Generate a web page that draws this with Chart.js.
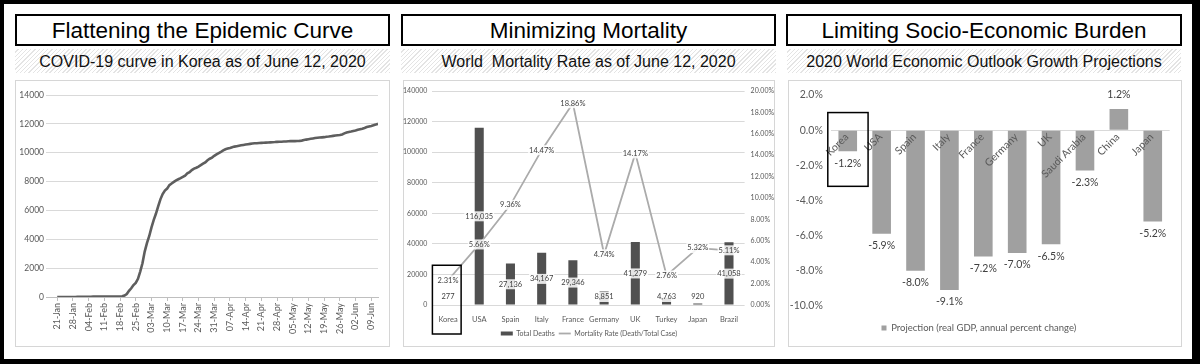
<!DOCTYPE html>
<html>
<head>
<meta charset="utf-8">
<script src="https://cdn.jsdelivr.net/npm/chart.js@4.4.1/dist/chart.umd.min.js"></script>
<style>
  html, body { margin: 0; padding: 0; background: #fff; }
  body { width: 1200px; height: 364px; position: relative; overflow: hidden; font-family: "Liberation Sans", Arial, sans-serif; }
  #frame { position: absolute; left: 0; top: 0; width: 1200px; height: 364px; box-sizing: border-box; border-style: solid; border-color: #000; border-width: 4px 8px 5px 4px; }
  .title { position: absolute; top: 14px; height: 32px; box-sizing: border-box; border: 2px solid #000; background: #fff; text-align: center; font-size: 22.5px; line-height: 29px; color: #000; white-space: nowrap; }
  .sub { position: absolute; top: 49px; height: 24px; text-align: center; font-size: 16px; line-height: 26px; color: #111; white-space: pre;
         background: repeating-linear-gradient(135deg, #ffffff 0px, #ffffff 2px, #e4e4e4 2px, #e4e4e4 3px); }
  .box { position: absolute; top: 80px; height: 267px; box-sizing: border-box; border: 1px solid #d6d6d6; background: #fff; }
  canvas { position: absolute; top: 80px; }
</style>
</head>
<body>
<div id="frame"></div>

<div class="title" style="left:15px;width:375px;">Flattening the Epidemic Curve</div>
<div class="sub" style="left:15px;width:375px;">COVID-19 curve in Korea as of June 12, 2020</div>
<div class="box" style="left:15px;width:375px;"></div>
<canvas id="c1" width="375" height="267" style="left:15px;"></canvas>

<div class="title" style="left:401px;width:375px;">Minimizing Mortality</div>
<div class="sub" style="left:401px;width:375px;">World  Mortality Rate as of June 12, 2020</div>
<div class="box" style="left:403px;width:372px;"></div>
<canvas id="c2" width="372" height="267" style="left:403px;"></canvas>

<div class="title" style="left:786px;width:396px;">Limiting Socio-Economic Burden</div>
<div class="sub" style="left:787px;width:394px;">2020 World Economic Outlook Growth Projections</div>
<div class="box" style="left:788px;width:394px;"></div>
<canvas id="c3" width="394" height="267" style="left:788px;"></canvas>

<script>
// ---------- Panel 1: Korea cumulative confirmed cases (daily, 21-Jan to 12-Jun 2020) ----------
const caseTickLabels = ['21-Jan','28-Jan','04-Feb','11-Feb','18-Feb','25-Feb','03-Mar','10-Mar','17-Mar','24-Mar','31-Mar',
  '07-Apr','14-Apr','21-Apr','28-Apr','05-May','12-May','19-May','26-May','02-Jun','09-Jun'];
const koreaCases = [
  1,1,1,2,2,3,4,4,4,6,11,
  12,15,15,16,19,23,24,24,27,27,28,28,28,28,28,29,30,31,51,104,204,433,602,833,977,1261,1766,2337,3150,
  3736,4212,4812,5328,5766,6284,6767,7134,7382,7513,7755,7869,7979,8086,8162,8236,8320,8413,8565,8652,8799,8897,8961,9037,9137,9241,9332,9478,9583,9661,9786,
  9887,9976,10062,10156,10237,10284,10331,10384,10423,10450,10480,10512,10537,10564,10591,10613,10635,10653,10661,10674,10683,10694,10702,10708,10718,10728,10738,10752,10761,10765,
  10774,10780,10793,10801,10804,10806,10810,10822,10840,10874,10909,10936,10962,10991,11018,11037,11050,11065,11078,11110,11122,11142,11165,11190,11206,11225,11265,11344,11402,11441,11468,
  11503,11541,11590,11629,11668,11719,11776,11814,11852,11902,11947,12003
];

// ---------- Panel 2: world mortality ----------
const mortCountries = ['Korea','USA','Spain','Italy','France','Germany','UK','Turkey','Japan','Brazil'];
const totalDeaths   = [277, 116035, 27136, 34167, 29346, 8851, 41279, 4763, 920, 41058];
const mortalityRate = [2.31, 5.66, 9.36, 14.47, 18.86, 4.74, 14.17, 2.76, 5.32, 5.11];

// ---------- Panel 3: 2020 WEO growth projections ----------
const gdpCountries  = ['Korea','USA','Spain','Italy','France','Germany','UK','Saudi Arabia','China','Japan'];
const gdpProjection = [-1.2, -5.9, -8.0, -9.1, -7.2, -7.0, -6.5, -2.3, 1.2, -5.2];

const FAM = 'Lato, "Open Sans", sans-serif';
Chart.defaults.font.family = FAM;
Chart.defaults.color = '#595959';
const base = { animation: false, responsive: false, maintainAspectRatio: false, events: [] };

// ---------- Chart 1 ----------
new Chart(document.getElementById('c1'), {
  type: 'line',
  data: { datasets: [{
    data: koreaCases.map((v, i) => ({ x: i, y: v })),
    borderColor: '#5e5e5e', borderWidth: 2.6, pointRadius: 0, tension: 0, fill: false
  }]},
  options: Object.assign({}, base, {
    layout: { padding: { top: 15, right: 12, left: 0, bottom: 0 } },
    plugins: { legend: { display: false }, tooltip: { enabled: false } },
    scales: {
      x: {
        type: 'linear', min: -5, max: 143,
        afterBuildTicks: s => { s.ticks = caseTickLabels.map((_, i) => ({ value: i * 7 })); },
        ticks: { autoSkip: false, minRotation: 90, maxRotation: 90, padding: 2, color: '#595959',
                 font: { size: 9 }, callback: v => caseTickLabels[Math.round(v / 7)] },
        grid: { drawOnChartArea: false, drawTicks: true, tickLength: 4, color: '#bfbfbf' },
        border: { display: true, color: '#bfbfbf' },
        afterFit: s => { s.height = 50; }
      },
      y: {
        min: 0, max: 14000,
        ticks: { stepSize: 2000, padding: 2, font: { size: 8.5 }, color: '#595959', callback: v => String(v) },
        grid: { color: '#d9d9d9', drawTicks: false },
        border: { display: false },
        afterFit: s => { s.width = 31; }
      }
    }
  })
});

// label helper
function labelWithBg(ctx, text, x, y) {
  const w = ctx.measureText(text).width;
  ctx.save();
  ctx.fillStyle = 'rgba(255,255,255,0.85)';
  ctx.fillRect(x - w / 2 - 1, y - 5, w + 2, 10);
  ctx.restore();
  ctx.fillText(text, x, y);
}

// ---------- Chart 2 ----------
new Chart(document.getElementById('c2'), {
  type: 'bar',
  data: {
    labels: mortCountries,
    datasets: [
      { type: 'bar', label: 'Total Deaths', data: totalDeaths, backgroundColor: '#505050', borderWidth: 0,
        barPercentage: 0.29, categoryPercentage: 1, yAxisID: 'y', order: 1, pointStyle: 'rect' },
      { type: 'line', label: 'Mortality Rate (Death/Total Case)', data: mortalityRate, borderColor: '#ababab',
        backgroundColor: '#ababab', borderWidth: 1.8, pointRadius: 0, tension: 0, yAxisID: 'y2', order: 0, pointStyle: 'line' }
    ]
  },
  options: Object.assign({}, base, {
    layout: { padding: { top: 11, right: 0, left: 0, bottom: 0 } },
    plugins: {
      tooltip: { enabled: false },
      legend: { position: 'bottom',
        labels: { usePointStyle: true, pointStyleWidth: 12, boxHeight: 4, padding: 4, color: '#595959',
                  font: { size: 7 }, sort: (a, b) => a.datasetIndex - b.datasetIndex } }
    },
    scales: {
      x: { grid: { display: false }, border: { display: false },
           ticks: { padding: 2, font: { size: 7.5 }, color: '#595959', maxRotation: 0, autoSkip: false },
           afterFit: s => { s.height = 21; } },
      y: { position: 'left', min: 0, max: 140000,
           ticks: { stepSize: 20000, padding: 5, font: { size: 7 }, color: '#595959', callback: v => String(v) },
           grid: { color: '#d9d9d9', drawTicks: false }, border: { display: false },
           afterFit: s => { s.width = 29.4; } },
      y2: { position: 'right', min: 0, max: 20,
            ticks: { stepSize: 2, padding: 6, font: { size: 7 }, color: '#595959', callback: v => v.toFixed(2) + '%' },
            grid: { display: false, drawTicks: false }, border: { display: false },
            afterFit: s => { s.width = 30.4; } }
    }
  }),
  plugins: [{
    id: 'labels2',
    afterDatasetsDraw(chart) {
      const ctx = chart.ctx, x = chart.scales.x, y = chart.scales.y, y2 = chart.scales.y2;
      const zeroY = y.getPixelForValue(0);
      ctx.save();
      ctx.font = '7.5px ' + FAM;
      ctx.fillStyle = '#404040';
      ctx.textAlign = 'center';
      ctx.textBaseline = 'middle';
      totalDeaths.forEach((v, i) => {
        const cy = Math.min((y.getPixelForValue(v) + zeroY) / 2, zeroY - 8);
        labelWithBg(ctx, v.toLocaleString('en-US'), x.getPixelForValue(i), cy);
      });
      mortalityRate.forEach((v, i) => {
        labelWithBg(ctx, v.toFixed(2) + '%', x.getPixelForValue(i), y2.getPixelForValue(v));
      });
      // Korea highlight box
      const cw = x.getPixelForValue(1) - x.getPixelForValue(0);
      const left = x.getPixelForValue(0) - cw / 2;
      ctx.strokeStyle = '#000';
      ctx.lineWidth = 1.5;
      ctx.strokeRect(left, y.getPixelForValue(26000), cw * 0.92, chart.chartArea.bottom + 29 - y.getPixelForValue(26000));
      ctx.restore();
    }
  }]
});

// ---------- Chart 3 ----------
new Chart(document.getElementById('c3'), {
  type: 'bar',
  data: {
    labels: gdpCountries,
    datasets: [{ label: 'Projection (real GDP, annual percent change)', data: gdpProjection,
                 backgroundColor: '#a0a0a0', borderWidth: 0, barPercentage: 0.55, categoryPercentage: 1, pointStyle: 'rect' }]
  },
  options: Object.assign({}, base, {
    layout: { padding: { top: 15, right: 12.3, left: 0, bottom: 4.25 } },
    plugins: {
      tooltip: { enabled: false },
      legend: { position: 'bottom',
        labels: { usePointStyle: true, pointStyleWidth: 5, boxHeight: 5, padding: 6, color: '#595959', font: { size: 9.5 } } }
    },
    scales: {
      x: { ticks: { display: false }, grid: { display: false }, border: { display: false },
           afterFit: s => { s.height = 11.5; } },
      y: { min: -10, max: 2,
           ticks: { stepSize: 2, padding: 8, font: { size: 10.5 }, color: '#595959', callback: v => v.toFixed(1) + '%' },
           grid: { color: c => (c.tick && c.tick.value === 0) ? '#d9d9d9' : 'rgba(0,0,0,0)', drawTicks: false },
           border: { display: false },
           afterFit: s => { s.width = 42.8; } }
    }
  }),
  plugins: [{
    id: 'labels3',
    afterDatasetsDraw(chart) {
      const ctx = chart.ctx, x = chart.scales.x, y = chart.scales.y;
      const zeroY = y.getPixelForValue(0);
      ctx.save();
      // value labels
      ctx.font = '10.5px ' + FAM;
      ctx.fillStyle = '#404040';
      ctx.textAlign = 'center';
      ctx.textBaseline = 'middle';
      gdpProjection.forEach((v, i) => {
        const py = y.getPixelForValue(v) + (v < 0 ? 12 : -14);
        ctx.fillText(v.toFixed(1) + '%', x.getPixelForValue(i), py);
      });
      // rotated category labels next to the zero line
      ctx.font = '10.5px ' + FAM;
      ctx.fillStyle = '#595959';
      ctx.textAlign = 'right';
      gdpCountries.forEach((name, i) => {
        ctx.save();
        ctx.translate(x.getPixelForValue(i) - 1, zeroY + 5);
        ctx.rotate(-Math.PI / 4);
        ctx.fillText(name, 0, 0);
        ctx.restore();
      });
      // Korea highlight box
      const cw = x.getPixelForValue(1) - x.getPixelForValue(0);
      const cx = x.getPixelForValue(0);
      const top = y.getPixelForValue(1.0), bot = y.getPixelForValue(-3.2);
      ctx.strokeStyle = '#000';
      ctx.lineWidth = 1.5;
      ctx.strokeRect(cx - cw / 2 - 3, top, cw * 1.1 + 3, bot - top);
      ctx.restore();
    }
  }]
});
</script>
</body>
</html>
